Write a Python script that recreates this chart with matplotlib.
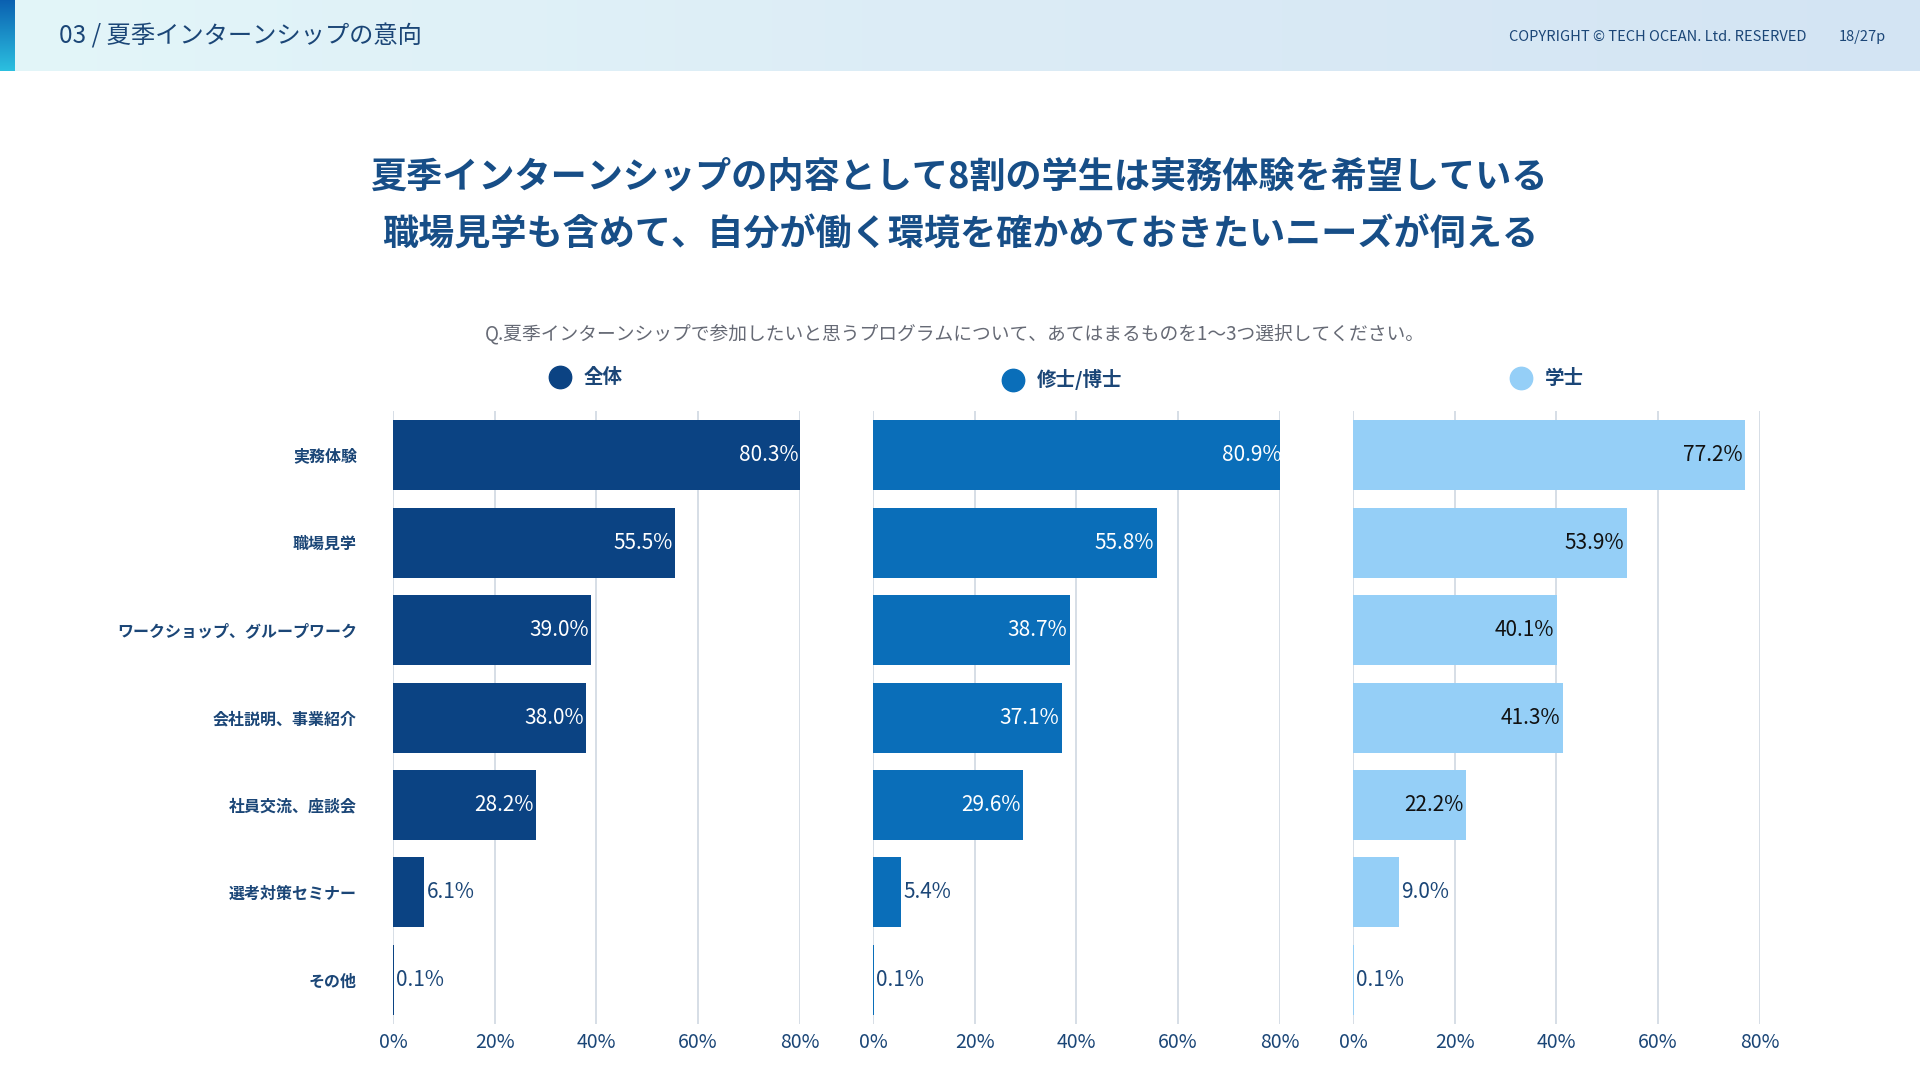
import matplotlib
matplotlib.use("Agg")
import matplotlib.pyplot as plt
import numpy as np

plt.rcParams['font.family'] = ['Noto Sans CJK JP', 'DejaVu Sans']

categories = ["実務体験", "職場見学", "ワークショップ、グループワーク", "会社説明、事業紹介",
              "社員交流、座談会", "選考対策セミナー", "その他"]
groups = ["全体", "修士/博士", "学士"]
values = {
    "全体": [80.3, 55.5, 39.0, 38.0, 28.2, 6.1, 0.1],
    "修士/博士": [80.9, 55.8, 38.7, 37.1, 29.6, 5.4, 0.1],
    "学士": [77.2, 53.9, 40.1, 41.3, 22.2, 9.0, 0.1],
}
colors = {"全体": "#0b4383", "修士/博士": "#0a6eb9", "学士": "#95cff7"}
label_colors = {"全体": "white", "修士/博士": "white", "学士": "#111111"}
ticks = [0, 20, 40, 60, 80]
tick_labels = ["0%", "20%", "40%", "60%", "80%"]

W, H = 1568, 882
fig = plt.figure(figsize=(19.2, 10.8), dpi=100)
bg = fig.add_axes([0, 0, 1, 1])
bg.set_xlim(0, W); bg.set_ylim(H, 0); bg.axis("off")
# header gradient
grad = np.linspace(0, 1, 256)[None, :]
from matplotlib.colors import LinearSegmentedColormap
cm = LinearSegmentedColormap.from_list("h", ["#e3f6f9", "#dcecf6", "#d3e4f3"])
bg.imshow(grad, extent=[0, W, 58, 0], aspect="auto", cmap=cm, zorder=0)
cm2 = LinearSegmentedColormap.from_list("a", ["#0a5fb0", "#2cc0e0"])
bg.imshow(np.linspace(0, 1, 256)[:, None], extent=[0, 12, 58, 0], aspect="auto", cmap=cm2, zorder=1)
bg.set_xlim(0, W); bg.set_ylim(H, 0)

navy = "#1b4677"
bg.text(48, 30, "03 / 夏季インターンシップの意向", fontsize=17.5, color=navy, va="center")
bg.text(1475, 30, "COPYRIGHT © TECH OCEAN. Ltd. RESERVED", fontsize=10.5, color=navy, va="center", ha="right")
bg.text(1540, 30, "18/27p", fontsize=10.5, color=navy, va="center", ha="right")
bg.text(784, 145, "夏季インターンシップの内容として8割の学生は実務体験を希望している",
        fontsize=26, color="#174e87", ha="center", va="center", fontweight="bold")
bg.text(784, 192, "職場見学も含めて、自分が働く環境を確かめておきたいニーズが伺える",
        fontsize=26, color="#174e87", ha="center", va="center", fontweight="bold")
bg.text(780, 273, "Q.夏季インターンシップで参加したいと思うプログラムについて、あてはまるものを1〜3つ選択してください。",
        fontsize=13.5, color="#666a75", ha="center", va="center")

legend_pos = [(457, 308), (827, 310), (1242, 309)]
for g, (lx, ly) in zip(groups, legend_pos):
    bg.scatter([lx], [ly], s=260, color=colors[g], zorder=3)
    bg.text(lx + 20, ly, g, fontsize=14, color=navy, va="center", fontweight="bold")

lefts = [321, 713, 1105]
y = np.arange(len(categories))
for i, (g, lx) in enumerate(zip(groups, lefts)):
    ax = fig.add_axes([lx / W, 1 - 836 / H, 332 / W, 500 / H])
    ax.barh(y, values[g], height=0.8, color=colors[g], zorder=2)
    ax.set_xlim(0, 80)
    ax.set_ylim(len(categories) - 0.5, -0.5)
    ax.set_xticks(ticks)
    ax.set_xticklabels(tick_labels, fontsize=14, color=navy)
    ax.grid(axis="x", color="#cfd8e2", linewidth=1.2, zorder=0)
    ax.tick_params(length=0, pad=6)
    for s in ax.spines.values():
        s.set_visible(False)
    if i == 0:
        ax.set_yticks(y)
        ax.set_yticklabels(categories, fontsize=11.5, color=navy, fontweight="bold")
        ax.tick_params(axis="y", pad=26)
    else:
        ax.set_yticks([])
    for yy, v in zip(y, values[g]):
        if v >= 15:
            ax.text(v - 0.5, yy, f"{v:.1f}%", ha="right", va="center", fontsize=15,
                    color=label_colors[g], zorder=3)
        else:
            ax.text(v + 0.5, yy, f"{v:.1f}%", ha="left", va="center", fontsize=15,
                    color=navy, zorder=3)

fig.savefig("out.png", dpi=100)
